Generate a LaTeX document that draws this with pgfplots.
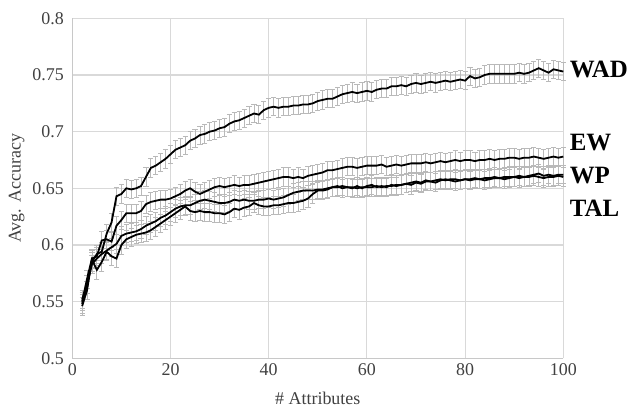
\documentclass[border=0pt]{standalone}
\usepackage{pgfplots}
\pgfplotsset{compat=1.18}
\usepackage{pgfplotstable}
\usepackage{fontspec}
\setmainfont{Liberation Serif}
\definecolor{gridc}{RGB}{217,217,217}
\definecolor{axc}{RGB}{200,200,200}
\definecolor{errc}{RGB}{185,185,185}

\pgfplotstableread{
x y
2 0.548
3 0.565
4 0.585
5 0.592
6 0.594
7 0.610
8 0.620
9 0.643
10 0.645
11 0.650
12 0.649
13 0.650
14 0.652
15 0.660
16 0.668
17 0.670
18 0.673
19 0.676
20 0.680
21 0.684
22 0.686
23 0.688
24 0.692
25 0.694
26 0.697
27 0.698
28 0.700
29 0.701
30 0.703
31 0.704
32 0.707
33 0.709
34 0.710
35 0.712
36 0.714
37 0.716
38 0.715
39 0.719
40 0.721
41 0.722
42 0.721
43 0.722
44 0.722
45 0.723
46 0.723
47 0.724
48 0.724
49 0.725
50 0.727
51 0.728
52 0.729
53 0.729
54 0.731
55 0.733
56 0.734
57 0.735
58 0.734
59 0.735
60 0.736
61 0.735
62 0.737
63 0.738
64 0.738
65 0.740
66 0.740
67 0.741
68 0.740
69 0.742
70 0.743
71 0.742
72 0.743
73 0.744
74 0.743
75 0.744
76 0.745
77 0.744
78 0.745
79 0.746
80 0.745
81 0.749
82 0.747
83 0.748
84 0.750
85 0.751
86 0.751
87 0.751
88 0.751
89 0.751
90 0.751
91 0.752
92 0.751
93 0.752
94 0.754
95 0.756
96 0.754
97 0.752
98 0.755
99 0.754
100 0.753
}\wad

\pgfplotstableread{
x y
2 0.550
3 0.570
4 0.588
5 0.590
6 0.604
7 0.605
8 0.603
9 0.617
10 0.622
11 0.628
12 0.628
13 0.628
14 0.630
15 0.636
16 0.638
17 0.639
18 0.640
19 0.640
20 0.641
21 0.643
22 0.645
23 0.648
24 0.650
25 0.647
26 0.645
27 0.647
28 0.649
29 0.651
30 0.652
31 0.651
32 0.652
33 0.653
34 0.652
35 0.653
36 0.653
37 0.654
38 0.655
39 0.656
40 0.657
41 0.658
42 0.659
43 0.660
44 0.660
45 0.659
46 0.660
47 0.659
48 0.661
49 0.662
50 0.663
51 0.664
52 0.666
53 0.666
54 0.667
55 0.668
56 0.669
57 0.669
58 0.668
59 0.669
60 0.670
61 0.670
62 0.670
63 0.671
64 0.669
65 0.670
66 0.671
67 0.670
68 0.671
69 0.672
70 0.672
71 0.672
72 0.673
73 0.672
74 0.673
75 0.674
76 0.673
77 0.674
78 0.675
79 0.674
80 0.675
81 0.675
82 0.674
83 0.675
84 0.675
85 0.676
86 0.675
87 0.676
88 0.676
89 0.677
90 0.677
91 0.676
92 0.677
93 0.677
94 0.678
95 0.677
96 0.676
97 0.677
98 0.678
99 0.677
100 0.678
}\ew

\pgfplotstableread{
x y
2 0.552
3 0.565
4 0.583
5 0.588
6 0.592
7 0.595
8 0.598
9 0.601
10 0.608
11 0.610
12 0.611
13 0.612
14 0.614
15 0.617
16 0.619
17 0.621
18 0.624
19 0.626
20 0.629
21 0.632
22 0.634
23 0.635
24 0.635
25 0.637
26 0.639
27 0.640
28 0.639
29 0.638
30 0.637
31 0.637
32 0.638
33 0.640
34 0.639
35 0.640
36 0.639
37 0.639
38 0.640
39 0.640
40 0.641
41 0.640
42 0.641
43 0.642
44 0.644
45 0.646
46 0.647
47 0.648
48 0.648
49 0.648
50 0.649
51 0.649
52 0.650
53 0.651
54 0.651
55 0.652
56 0.651
57 0.651
58 0.650
59 0.651
60 0.651
61 0.651
62 0.652
63 0.651
64 0.652
65 0.652
66 0.653
67 0.653
68 0.654
69 0.655
70 0.656
71 0.655
72 0.657
73 0.656
74 0.657
75 0.658
76 0.657
77 0.658
78 0.658
79 0.657
80 0.658
81 0.658
82 0.659
83 0.658
84 0.659
85 0.659
86 0.660
87 0.659
88 0.660
89 0.660
90 0.660
91 0.661
92 0.660
93 0.661
94 0.662
95 0.663
96 0.661
97 0.662
98 0.661
99 0.662
100 0.662
}\wp

\pgfplotstableread{
x y
2 0.546
3 0.560
4 0.587
5 0.578
6 0.585
7 0.594
8 0.590
9 0.588
10 0.600
11 0.605
12 0.607
13 0.609
14 0.610
15 0.611
16 0.613
17 0.616
18 0.619
19 0.622
20 0.625
21 0.628
22 0.631
23 0.634
24 0.630
25 0.629
26 0.630
27 0.629
28 0.629
29 0.628
30 0.628
31 0.627
32 0.629
33 0.632
34 0.631
35 0.633
36 0.634
37 0.637
38 0.635
39 0.634
40 0.634
41 0.635
42 0.635
43 0.636
44 0.637
45 0.637
46 0.638
47 0.639
48 0.641
49 0.645
50 0.648
51 0.648
52 0.649
53 0.651
54 0.652
55 0.650
56 0.651
57 0.650
58 0.652
59 0.650
60 0.652
61 0.653
62 0.651
63 0.652
64 0.651
65 0.653
66 0.652
67 0.653
68 0.654
69 0.653
70 0.655
71 0.654
72 0.656
73 0.656
74 0.655
75 0.657
76 0.658
77 0.657
78 0.656
79 0.657
80 0.658
81 0.657
82 0.658
83 0.658
84 0.657
85 0.658
86 0.659
87 0.659
88 0.658
89 0.659
90 0.660
91 0.659
92 0.660
93 0.660
94 0.661
95 0.660
96 0.659
97 0.660
98 0.660
99 0.661
100 0.660
}\tal

\pgfplotsset{errplot/.style={errc, line width=0.8bp, mark=none,
    error bars/.cd, y dir=both, y fixed=0.008}}

\begin{document}
\begin{tikzpicture}
\begin{axis}[
  scale only axis,
  width=491bp, height=340bp,
  xmin=0, xmax=100, ymin=0.5, ymax=0.8,
  xtick={0,20,...,100},
  ytick={0.5,0.55,0.6,0.65,0.7,0.75,0.8},
  yticklabels={0.5,0.55,0.6,0.65,0.7,0.75,0.8},
  grid=major,
  major grid style={gridc, line width=1.1bp},
  axis line style={axc, line width=1.2bp},
  axis x line*=bottom, axis y line*=left,
  tick style={draw=none},
  major tick length=0pt,
  /pgf/number format/assume math mode=true,
  tick label style={font=\fontsize{18}{20}\selectfont, text=black!75},
  xticklabel style={yshift=-2bp},
  yticklabel style={xshift=-5bp},
  xlabel={\# Attributes},
  ylabel={Avg. Accuracy},
  label style={font=\fontsize{18}{20}\selectfont, text=black!75},
  xlabel style={yshift=-9bp},
  ylabel style={yshift=1bp},
  clip=false,
  error bars/error bar style={errc, line width=0.8bp},
  error bars/error mark options={errc, rotate=90, mark size=2.6bp, line width=0.8bp},
]
\addplot[errplot] table[x=x, y=y] {\wad};
\addplot[errplot] table[x=x, y=y] {\ew};
\addplot[errplot] table[x=x, y=y] {\wp};
\addplot[errplot] table[x=x, y=y] {\tal};
\addplot[black, line width=1.8bp, mark=none] table[x=x,y=y] {\wad};
\addplot[black, line width=1.8bp, mark=none] table[x=x,y=y] {\ew};
\addplot[black, line width=1.8bp, mark=none] table[x=x,y=y] {\wp};
\addplot[black, line width=1.8bp, mark=none] table[x=x,y=y] {\tal};
\node[anchor=west, font=\fontsize{25}{26}\selectfont\bfseries] at (axis cs:100.6,0.7545) {WAD};
\node[anchor=west, font=\fontsize{25}{26}\selectfont\bfseries] at (axis cs:100.6,0.6905) {EW};
\node[anchor=west, font=\fontsize{25}{26}\selectfont\bfseries] at (axis cs:100.6,0.661) {WP};
\node[anchor=west, font=\fontsize{25}{26}\selectfont\bfseries] at (axis cs:100.6,0.6325) {TAL};
\end{axis}
\pgfresetboundingbox
\path[use as bounding box] ([shift={(-72.3bp,-51.7bp)}]current axis.south west) rectangle ([shift={(68.7bp,18.3bp)}]current axis.north east);
\end{tikzpicture}
\end{document}
